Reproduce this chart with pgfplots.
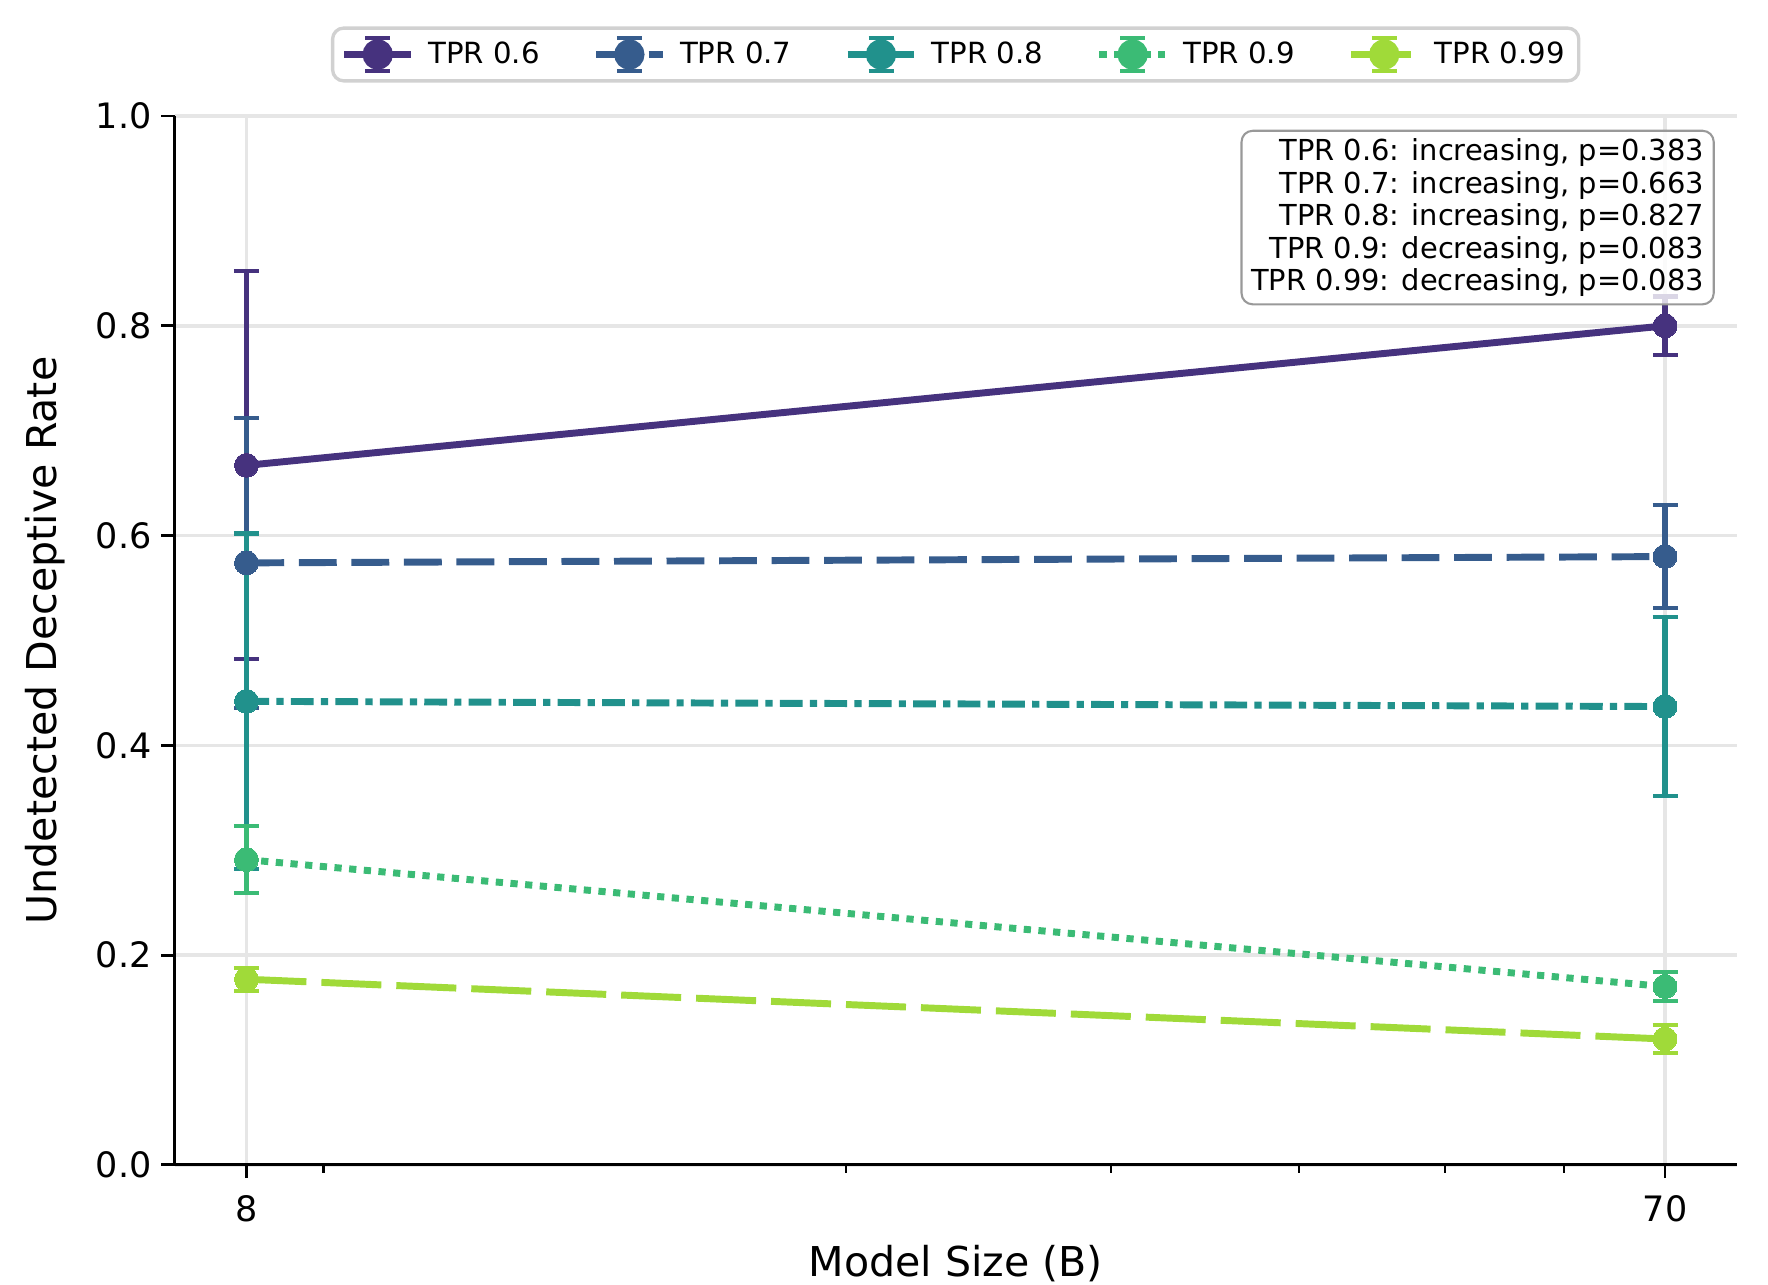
\documentclass[border=0pt]{standalone}
\usepackage{fontspec}
\setmainfont{DejaVu Sans}
\usepackage{pgfplots}
\pgfplotsset{compat=1.18}
\definecolor{c1}{HTML}{46327E}
\definecolor{c2}{HTML}{365C8D}
\definecolor{c3}{HTML}{21918C}
\definecolor{c4}{HTML}{3BBB75}
\definecolor{c5}{HTML}{A0DA39}
\definecolor{gridc}{HTML}{E6E6E6}
\pgfplotsset{
  errbars/.style={forget plot, draw=none, mark=none,
    error bars/.cd, y dir=both, y explicit,
    error bar style={draw=#1, line width=2pt, solid},
    error mark options={draw=#1, rotate=90, mark size=4.5pt, line width=1.5pt, solid}},
  mainline/.style={color=#1, line width=2.5pt, mark=*, mark size=4.3pt,
    mark options={solid, fill=#1, draw=#1, line width=0pt}},
  errlegend/.style={legend image code/.code={
    \draw[line width=2.5pt] (0pt,0pt) -- (24pt,0pt);
    \draw[solid,line width=2pt] (12pt,-6pt) -- (12pt,6pt);
    \draw[solid,line width=1.5pt] (7.5pt,6pt) -- (16.5pt,6pt) (7.5pt,-6pt) -- (16.5pt,-6pt);
    \fill[solid] (12pt,0pt) circle (4.2pt);
  }},
}
\begin{document}
\begin{tikzpicture}
\begin{axis}[
  scale only axis,
  width=562.2pt, height=377.5pt,
  xmode=log,
  xmin=7.17, xmax=78.1,
  ymin=0, ymax=1,
  xtick={8,70}, xticklabels={8,70},
  minor xtick={9,20,30,40,50,60},
  ytick={0,0.2,0.4,0.6,0.8,1.0},
  yticklabels={0.0,0.2,0.4,0.6,0.8,1.0},
  axis lines*=left,
  axis line style={line width=1pt, black},
  tick align=outside,
  major tick length=4.8pt,
  minor tick length=2.8pt,
  tick style={line width=1pt, black},
  minor tick style={line width=0.8pt, black},
  xmajorgrids, ymajorgrids,
  major grid style={gridc, line width=1.2pt},
  ticklabel style={font=\fontsize{12.6}{15}\selectfont},
  xticklabel style={yshift=-2.8pt},
  /pgf/number format/assume math mode=true,
  xlabel={Model Size (B)},
  ylabel={Undetected Deceptive Rate},
  label style={font=\fontsize{14.8}{17}\selectfont},
  xlabel style={at={(axis description cs:0.5,-0.0937)}, anchor=center},
  ylabel style={at={(axis description cs:-0.0830,0.5)}, anchor=center, rotate=0},
  legend columns=5,
  legend style={at={(0.5,1.032)}, anchor=south, draw=black!18, line width=1.2pt,
    rounded corners=4pt, font=\fontsize{10.5}{12}\selectfont,
    inner xsep=3pt, inner ysep=2.5pt,
    /tikz/every even column/.append style={column sep=17pt},
    /tikz/every odd column/.append style={column sep=3pt}},
  legend cell align=left,
  errlegend,
  clip=false,
]
% error bars (drawn beneath all lines and markers)
\addplot[errbars=c1] coordinates {(8,0.667) +- (0,0.185) (70,0.800) +- (0,0.028)};
\addplot[errbars=c2] coordinates {(8,0.574) +- (0,0.138) (70,0.580) +- (0,0.049)};
\addplot[errbars=c3] coordinates {(8,0.442) +- (0,0.160) (70,0.437) +- (0,0.085)};
\addplot[errbars=c4] coordinates {(8,0.291) +- (0,0.032) (70,0.170) +- (0,0.014)};
\addplot[errbars=c5] coordinates {(8,0.177) +- (0,0.011) (70,0.120) +- (0,0.0135)};
% lines and markers
\addplot[mainline=c1] coordinates {(8,0.667) (70,0.800)};
\addlegendentry{TPR 0.6}
\addplot[mainline=c2, dash pattern=on 13.6pt off 5.3pt] coordinates {(8,0.574) (70,0.580)};
\addlegendentry{TPR 0.7}
\addplot[mainline=c3, dash pattern=on 8.2pt off 2.6pt on 2.6pt off 2.6pt] coordinates {(8,0.442) (70,0.437)};
\addlegendentry{TPR 0.8}
\addplot[mainline=c4, dash pattern=on 2.6pt off 2.7pt] coordinates {(8,0.291) (70,0.170)};
\addlegendentry{TPR 0.9}
\addplot[mainline=c5, dash pattern=on 21.6pt off 5.4pt] coordinates {(8,0.177) (70,0.120)};
\addlegendentry{TPR 0.99}
\node[anchor=north east, draw=black!40, fill=white, fill opacity=0.8, text opacity=1,
  rounded corners=4pt, align=right, line width=0.75pt,
  font=\fontsize{10.4}{11.7}\selectfont, inner xsep=3.5pt, inner ysep=2.8pt]
  at (rel axis cs:0.986,0.987)
  {TPR 0.6: increasing, p=0.383\\TPR 0.7: increasing, p=0.663\\TPR 0.8: increasing, p=0.827\\TPR 0.9: decreasing, p=0.083\\TPR 0.99: decreasing, p=0.083};
\end{axis}
\pgfresetboundingbox
\path[use as bounding box] (-62.9pt,-42.9pt) rectangle (573.5pt,419.3pt);
\end{tikzpicture}
\end{document}
